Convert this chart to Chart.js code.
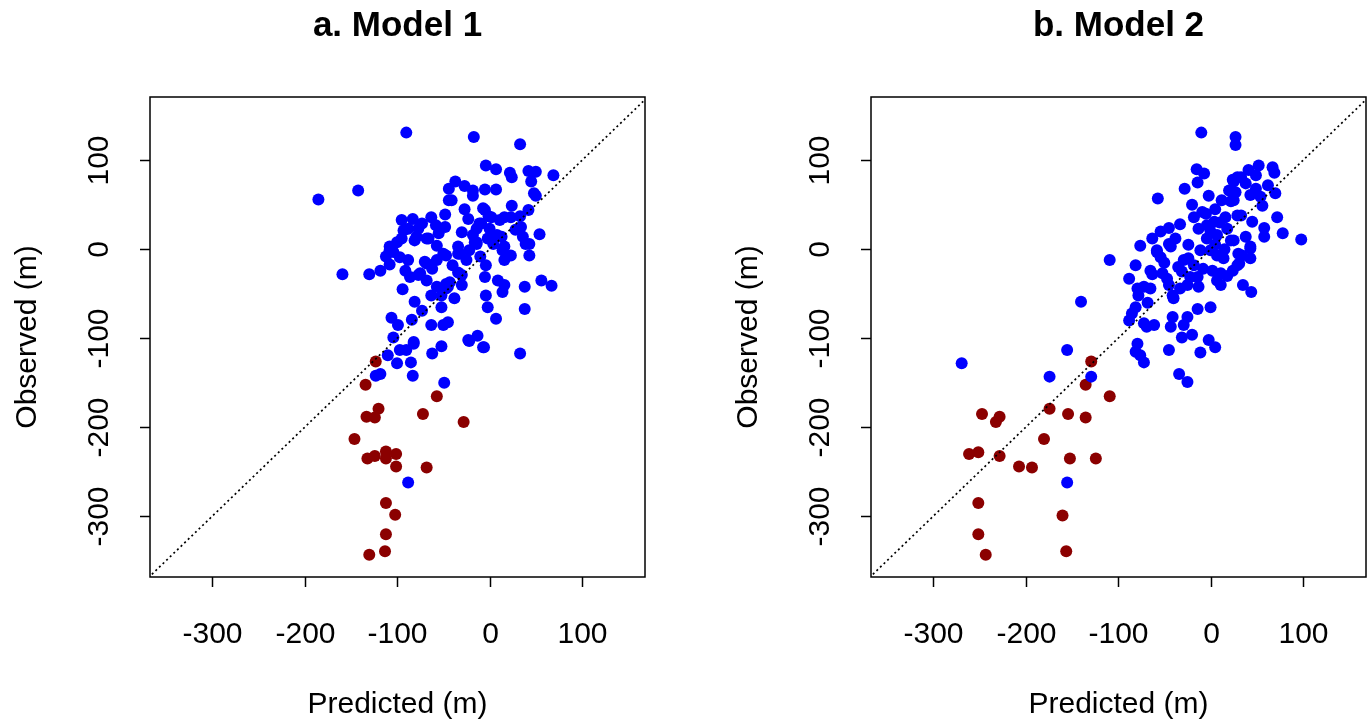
<!DOCTYPE html>
<html>
<head>
<meta charset="utf-8">
<script src="https://cdn.jsdelivr.net/npm/chart.js@4/dist/chart.umd.min.js"></script>
<style>
  html, body { margin: 0; padding: 0; background: #fff; }
  #wrap { position: relative; width: 1372px; height: 721px; }
  canvas { position: absolute; top: 0; }
</style>
</head>
<body>
<div id="wrap">
  <canvas id="m1" width="686" height="721" style="left:0"></canvas>
  <canvas id="m2" width="686" height="721" style="left:686px"></canvas>
</div>
<script>
// [predicted, observed] pairs (m)
const model1Blue = [
  [-90,131],[-142,66],[-185,56],[-44,68],[-44,55],[-48,39],[-95,33],[-83,34],[-73,29],[-58,27],
  [-48,25],[-93,21],[-79,14],[-68,12],[-108,3],[-100,8],[-57,4],
  [-17,126],[33,118],[-4,94],[7,90],[22,86],[24,81],[42,88],[50,87],[45,76],[69,83],[48,63],[50,60],
  [-37,76],[-27,71],[-18,66],[-18,60],[-5,67],[7,67],[24,49],[-7,46],[-1,37],[-23,34],[-11,29],
  [16,36],[23,36],[33,37],[42,44],[34,25],[-30,19],[0,23],[8,16],[-18,16],[-14,8],[36,14],[54,17],
  [43,6],[-34,3],[16,3],
  [-159,-28],[-130,-28],[-118,-24],[-108,-17],[-104,-3],[-97,-9],[-91,-24],[-86,-31],[-75,-27],
  [-68,-35],[-94,-45],[-81,-59],[-73,-69],[-52,-65],[-57,-42],[-47,-39],[-106,-77],[-99,-85],
  [-84,-79],[-104,-99],[-82,-104],[-97,-113],[-90,-113],[-63,-85],[-50,-85],[-52,-109],[-62,-117],
  [-110,-119],[-100,-128],[-85,-127],[-123,-142],[-83,-142],[-108,-1],[-68,-16],[-57,-12],[-47,-7],
  [-50,-5],[-32,-5],[-22,-1],[-14,6],[4,6],[14,-1],[23,-7],[16,-12],[43,-7],[39,6],[-4,-18],
  [-5,-31],[-34,-26],[-43,-37],[-30,-40],[-47,-44],[9,-35],[16,-40],[14,-48],[38,-42],[56,-35],
  [67,-41],[-4,-52],[-2,-65],[38,-67],[7,-78],[-45,-82],[-23,-102],[-13,-97],[-7,-110],[33,-117],
  [-88,-262],[-118,-140],[-49,-150],[-82,-106],[-22,-103],[-6,-110],
  [-41,55],[-88,23],[-77,23],[-95,12],[-81,10],[-66,12],[-14,23],[-9,29],[-5,44],[2,36],[11,33],
  [-70,-14],[-34,-5],[-16,8],[-2,12],[5,12],[13,14],[-77,-29],[-30,-29],[-45,-42],[-52,-52],
  [-63,-52],[-38,-55],
  [-40,-18],[-25,-12],[-10,-8],[-62,-22],[-55,18],[-88,-12],[28,22],[-27,45],[-63,36],[-112,-8]
];
const model1Red = [
  [-123,-126],[-134,-152],[-57,-165],[-120,-179],[-133,-188],[-124,-189],[-72,-185],[-28,-194],
  [-146,-213],[-132,-235],[-124,-232],[-112,-227],[-112,-235],[-101,-230],[-101,-244],[-68,-245],
  [-112,-285],[-102,-298],[-112,-320],[-130,-343],[-113,-339]
];
const model2Blue = [
  [-10,131],[27,126],[27,117],[-15,90],[-7,85],[-14,75],[-28,68],[-57,57],[24,78],[29,81],[20,66],
  [27,64],[22,54],[-18,36],[-9,42],[5,45],[16,36],[29,38],[-33,28],[-45,24],[-54,20],[-13,23],
  [-4,27],[4,31],[-63,12],[-38,12],[-45,6],[-24,5],[-76,4],[-58,-1],[-4,12],[7,16],[22,10],
  [-11,-1],[18,23],
  [52,94],[67,92],[69,86],[41,89],[49,83],[33,81],[25,76],[38,74],[49,68],[70,63],[43,61],[54,59],
  [56,49],[25,55],[72,36],[33,38],[45,31],[58,24],[78,18],[98,11],[38,14],[25,10],[58,14],[43,3],
  [-109,-12],[-81,-18],[-65,-24],[-63,-28],[-88,-33],[-79,-44],[-72,-42],[-65,-44],[-78,-52],
  [-52,-27],[-47,-33],[-45,-40],[-41,-52],[-40,-55],[-58,-3],[-54,-9],[-43,3],[-29,-12],[-24,-10],
  [-18,-18],[-31,-25],[-22,-31],[-33,-44],[-14,-31],[-13,-42],[-25,-40],[2,-24],[11,-27],[7,-35],
  [11,-40],[24,-24],[7,-7],[14,-10],[0,-1],[29,-18],[-140,-59],[-81,-65],[-85,-72],[-88,-80],
  [-72,-83],[-69,-87],[-61,-85],[-14,-67],[0,-65],[-41,-76],[-25,-76],[-43,-87],[-29,-85],
  [-31,-99],[-20,-96],[-79,-106],[-81,-115],[-76,-119],[-72,-127],[-45,-113],[-2,-102],[5,-110],
  [-11,-116],[-34,-140],[-25,-149],
  [43,1],[34,-7],[43,-10],[31,-16],[35,-40],[44,-48],
  [-269,-128],[-155,-113],[-174,-143],[-129,-143],[-155,-262],
  [0,20],[5,5],[10,30],[-5,40],[15,0],
  [-20,50],[12,55],[-35,-20],[-8,-22],[18,-30],[-50,-15],[-2,60],[62,72],[-68,-60],[30,-5]
];
const model2Red = [
  [-129,-126],[-135,-152],[-109,-165],[-247,-185],[-228,-188],[-232,-194],[-174,-179],[-154,-185],
  [-135,-189],[-180,-213],[-261,-230],[-251,-228],[-228,-232],[-207,-244],[-193,-245],[-152,-235],
  [-124,-235],[-251,-285],[-160,-299],[-251,-320],[-243,-343],[-156,-339]
];
const xTicks = [-300, -200, -100, 0, 100];
const yTicks = [-300, -200, -100, 0, 100];
const axisMin = -367, axisMax = 168;
const yMin = -368, yMax = 171;

const FONT = '"Liberation Sans", Arial, sans-serif';

// box, ticks, labels and titles drawn like base R graphics
const rFrame = {
  id: 'rFrame',
  afterDraw(chart, args, opts) {
    const ctx = chart.ctx, a = chart.chartArea;
    const x = chart.scales.x, y = chart.scales.y;
    ctx.save();
    ctx.strokeStyle = '#000';
    ctx.lineWidth = 1.5;
    ctx.strokeRect(a.left, a.top, a.right - a.left, a.bottom - a.top);
    ctx.fillStyle = '#000';
    ctx.font = '30px ' + FONT;
    ctx.textAlign = 'center';
    ctx.textBaseline = 'middle';
    xTicks.forEach(function (v) {
      const px = Math.round(x.getPixelForValue(v)) + 0.5;
      ctx.beginPath(); ctx.moveTo(px, a.bottom); ctx.lineTo(px, a.bottom + 10); ctx.stroke();
      ctx.fillText(String(v), px, a.bottom + 58);
    });
    yTicks.forEach(function (v) {
      const py = Math.round(y.getPixelForValue(v)) + 0.5;
      ctx.beginPath(); ctx.moveTo(a.left - 10, py); ctx.lineTo(a.left, py); ctx.stroke();
      ctx.save();
      ctx.translate(a.left - 50, py);
      ctx.rotate(-Math.PI / 2);
      ctx.fillText(String(v), 0, 0);
      ctx.restore();
    });
    const cx = (a.left + a.right) / 2, cy = (a.top + a.bottom) / 2;
    ctx.fillText('Predicted (m)', cx, a.bottom + 128);
    ctx.save();
    ctx.translate(a.left - 122, cy);
    ctx.rotate(-Math.PI / 2);
    ctx.fillText('Observed (m)', 0, 0);
    ctx.restore();
    ctx.font = 'bold 35px ' + FONT;
    ctx.fillText(opts.title, cx, 26);
    ctx.restore();
  }
};

function toPoints(list) {
  return list.map(function (p) { return { x: p[0], y: p[1] }; });
}

function makeChart(id, title, blue, red, padLeft, padRight) {
  return new Chart(document.getElementById(id), {
    type: 'scatter',
    data: {
      datasets: [
        {
          type: 'line',
          data: [{ x: -400, y: -400 }, { x: 200, y: 200 }],
          borderColor: '#000', borderWidth: 1.7, borderDash: [2, 3],
          pointRadius: 0, fill: false
        },
        {
          data: toPoints(blue),
          backgroundColor: '#0000FF', borderColor: '#0000FF',
          pointRadius: 6, pointBorderWidth: 0
        },
        {
          data: toPoints(red),
          backgroundColor: '#8B0000', borderColor: '#8B0000',
          pointRadius: 6, pointBorderWidth: 0
        }
      ]
    },
    options: {
      responsive: false,
      animation: false,
      devicePixelRatio: 1,
      layout: { padding: { left: padLeft, right: padRight, top: 97, bottom: 144 } },
      plugins: { legend: { display: false }, tooltip: { enabled: false }, rFrame: { title: title } },
      scales: {
        x: { type: 'linear', display: false, min: axisMin, max: axisMax },
        y: { type: 'linear', display: false, min: yMin, max: yMax }
      }
    },
    plugins: [rFrame]
  });
}

window.addEventListener('load', function () {
  makeChart('m1', 'a. Model 1', model1Blue, model1Red, 150, 41);
  makeChart('m2', 'b. Model 2', model2Blue, model2Red, 185, 6);
});
</script>
</body>
</html>
